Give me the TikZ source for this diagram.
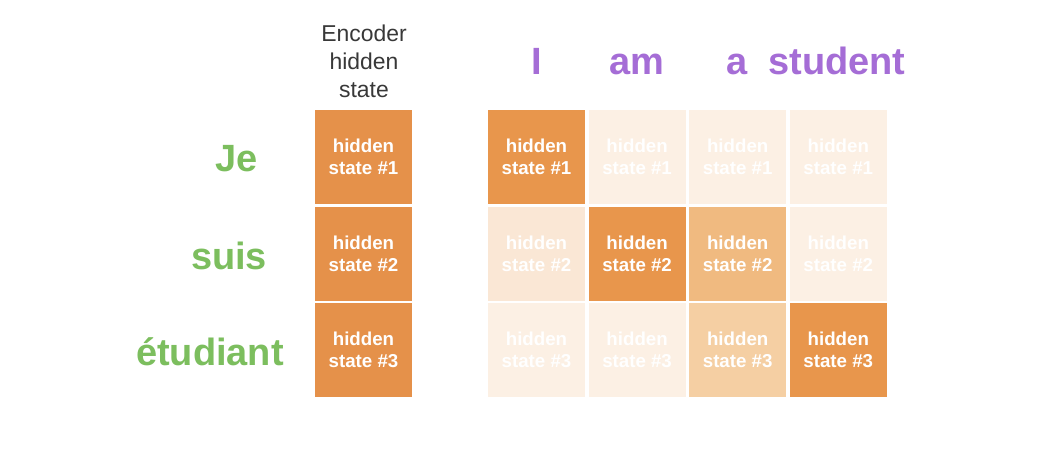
\documentclass[tikz,border=0pt]{standalone}
\usepackage{fontspec}
\setmainfont{Liberation Sans}
\usetikzlibrary{positioning}
\definecolor{encorange}{HTML}{E5914A}
\definecolor{attdark}{HTML}{E8964C}
\definecolor{attmid}{HTML}{F0BA80}
\definecolor{attsoft}{HTML}{F5CFA3}
\definecolor{attpale}{HTML}{FAE7D5}
\definecolor{attfaint}{HTML}{FCF0E4}
\definecolor{srcgreen}{HTML}{7CBE5E}
\definecolor{tgtpurple}{HTML}{A56DD6}
\tikzset{
  cell/.style={minimum width=2.425cm,minimum height=2.35cm,inner sep=0pt,align=center,
    text=white,font=\bfseries\fontsize{13.3}{15.6}\selectfont},
  srcword/.style={text=srcgreen,font=\bfseries\fontsize{27}{30}\selectfont},
  tgtword/.style={text=tgtpurple,font=\bfseries\fontsize{27}{30}\selectfont}
}

\begin{document}
\begin{tikzpicture}[x=0.025cm,y=-0.025cm,node distance=0.05cm and 0.075cm]
  \useasboundingbox[fill=white] (0,0) rectangle (1039,449);

  % encoder column
  \node[align=center,text=black!78,font=\fontsize{16.3}{20}\selectfont] (enchead) at (364,61) {Encoder\\hidden\\state};
  \node[cell,fill=encorange] (enc1) at (363.5,157) {hidden\\state \#1};
  \node[cell,fill=encorange,below=of enc1] (enc2) {hidden\\state \#2};
  \node[cell,fill=encorange,below=of enc2] (enc3) {hidden\\state \#3};

  % source words
  \node[srcword] (je) at (237,159) {Je};
  \node[srcword] (suis) at (229,256) {suis};
  \node[srcword] (etud) at (210,352) {étudiant};

  % attention grid
  \node[cell,fill=attdark] (a11) at (536.5,157) {hidden\\state \#1};
  \node[cell,fill=attfaint,right=of a11] (a12) {hidden\\state \#1};
  \node[cell,fill=attfaint,right=of a12] (a13) {hidden\\state \#1};
  \node[cell,fill=attfaint,right=of a13] (a14) {hidden\\state \#1};

  \node[cell,fill=attpale,below=of a11] (a21) {hidden\\state \#2};
  \node[cell,fill=attdark,right=of a21] (a22) {hidden\\state \#2};
  \node[cell,fill=attmid,right=of a22] (a23) {hidden\\state \#2};
  \node[cell,fill=attfaint,right=of a23] (a24) {hidden\\state \#2};

  \node[cell,fill=attfaint,below=of a21] (a31) {hidden\\state \#3};
  \node[cell,fill=attfaint,right=of a31] (a32) {hidden\\state \#3};
  \node[cell,fill=attsoft,right=of a32] (a33) {hidden\\state \#3};
  \node[cell,fill=attdark,right=of a33] (a34) {hidden\\state \#3};

  % target words
  \node[tgtword,anchor=base] (w1) at (537,74) {I};
  \node[tgtword,anchor=base] (w2) at (637,74) {am};
  \node[tgtword,anchor=base] (w3) at (737,74) {a};
  \node[tgtword,anchor=base] (w4) at (837,74) {student};
\end{tikzpicture}
\end{document}
